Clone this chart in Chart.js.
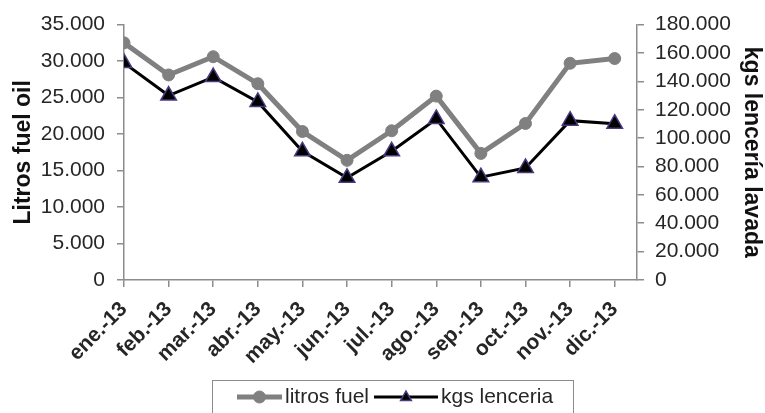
<!DOCTYPE html>
<html lang="es">
<head>
  <meta charset="UTF-8" />
  <title>Litros fuel oil / kgs lencería lavada</title>
  <script src="https://cdn.jsdelivr.net/npm/chart.js"></script>
  <style>
    html, body { margin: 0; padding: 0; background: #fff; }
    #wrap { width: 765px; height: 413px; }
  </style>
</head>
<body>
  <div id="wrap"><canvas id="fuelChart" width="765" height="413"></canvas></div>

  <script>
    const months = ['ene.-13', 'feb.-13', 'mar.-13', 'abr.-13', 'may.-13', 'jun.-13',
                    'jul.-13', 'ago.-13', 'sep.-13', 'oct.-13', 'nov.-13', 'dic.-13'];
    const litrosFuel = [32500, 28100, 30600, 26900, 20350, 16400, 20450, 25200, 17350, 21450, 29700, 30350];
    const kgsLenceria = [153000, 130000, 143000, 125500, 90700, 72000, 90700, 113500, 72500, 79000, 112300, 110200];
    const leftTicks = [0, 5000, 10000, 15000, 20000, 25000, 30000, 35000];
    const rightTicks = [0, 20000, 40000, 60000, 80000, 100000, 120000, 140000, 160000, 180000];

    const font = 'Liberation Sans, Arial, sans-serif';
    const axisGrey = '#8c8c8c';
    const textColor = '#262626';

    function fmt(v) {
      return String(v).replace(/\B(?=(\d{3})+(?!\d))/g, '.');
    }

    // legend drawn as in the original: framed box under the chart, line + marker per series
    const boxLegend = {
      id: 'boxLegend',
      afterDraw(chart) {
        const ctx = chart.ctx;
        ctx.save();
        ctx.strokeStyle = axisGrey;
        ctx.lineWidth = 1;
        ctx.strokeRect(212.5, 380.5, 361, 40);

        const y = 397;
        const items = [
          { ds: chart.data.datasets[0], x0: 237, x1: 282, tx: 285 },
          { ds: chart.data.datasets[1], x0: 374, x1: 438, tx: 441 }
        ];
        items.forEach(it => {
          const ds = it.ds;
          ctx.strokeStyle = ds.borderColor;
          ctx.lineWidth = ds.borderWidth;
          ctx.beginPath();
          ctx.moveTo(it.x0, y);
          ctx.lineTo(it.x1, y);
          ctx.stroke();
          const cx = (it.x0 + it.x1) / 2;
          ctx.fillStyle = ds.pointBackgroundColor;
          ctx.strokeStyle = ds.pointBorderColor;
          ctx.lineWidth = ds.pointBorderWidth;
          ctx.beginPath();
          if (ds.pointStyle === 'triangle') {
            const r = 6;
            ctx.moveTo(cx, y - r);
            ctx.lineTo(cx + r * 0.9, y + r * 0.6);
            ctx.lineTo(cx - r * 0.9, y + r * 0.6);
            ctx.closePath();
          } else {
            ctx.arc(cx, y, 6, 0, Math.PI * 2);
          }
          ctx.fill();
          ctx.stroke();
          ctx.fillStyle = textColor;
          ctx.font = '21px ' + font;
          ctx.textBaseline = 'middle';
          ctx.textAlign = 'left';
          ctx.fillText(ds.label, it.tx, y);
        });
        ctx.restore();
      }
    };

    const ctx = document.getElementById('fuelChart').getContext('2d');
    const chart = new Chart(ctx, {
      type: 'line',
      data: {
        datasets: [{
          label: 'litros fuel',
          data: litrosFuel.map((v, i) => ({ x: i, y: v })),
          yAxisID: 'y',
          borderColor: '#808080',
          borderWidth: 5,
          pointStyle: 'circle',
          pointRadius: 6,
          pointBackgroundColor: '#808080',
          pointBorderColor: '#808080',
          pointBorderWidth: 1,
          tension: 0,
          order: 1
        }, {
          label: 'kgs lenceria',
          data: kgsLenceria.map((v, i) => ({ x: i, y: v })),
          yAxisID: 'y1',
          borderColor: '#000000',
          borderWidth: 3,
          pointStyle: 'triangle',
          pointRadius: 9,
          pointBackgroundColor: '#000000',
          pointBorderColor: '#4b3a80',
          pointBorderWidth: 1.5,
          tension: 0,
          order: 0
        }]
      },
      options: {
        responsive: false,
        animation: false,
        layout: { padding: { top: 22, left: 0, right: 0, bottom: 0 } },
        plugins: {
          legend: { display: false },
          tooltip: { enabled: false }
        },
        scales: {
          x: {
            type: 'linear',
            min: 0,
            max: 11.5,
            afterBuildTicks: s => { s.ticks = months.map((m, i) => ({ value: i })); },
            afterFit: s => { s.height = 133; },
            border: { color: axisGrey, width: 1.5 },
            grid: { drawOnChartArea: false, color: axisGrey, lineWidth: 1.5, tickLength: 7 },
            ticks: {
              autoSkip: false,
              minRotation: 45,
              maxRotation: 45,
              padding: 10,
              color: textColor,
              font: { family: font, size: 21, weight: 'bold' },
              callback: v => months[v] || ''
            }
          },
          y: {
            position: 'left',
            min: 0,
            max: 35000,
            afterBuildTicks: s => { s.ticks = leftTicks.map(v => ({ value: v })); },
            afterFit: s => { s.width = 124; },
            border: { color: axisGrey, width: 1.5 },
            grid: { drawOnChartArea: false, color: axisGrey, lineWidth: 1.5, tickLength: 7 },
            ticks: {
              padding: 12,
              color: textColor,
              font: { family: font, size: 21 },
              callback: v => fmt(v)
            },
            title: {
              display: true,
              text: 'Litros fuel oil',
              color: '#111',
              padding: { top: 10, bottom: 0 },
              font: { family: font, size: 23, weight: 'bold' }
            }
          },
          y1: {
            position: 'right',
            min: 0,
            max: 180000,
            afterBuildTicks: s => { s.ticks = rightTicks.map(v => ({ value: v })); },
            afterFit: s => { s.width = 128; },
            border: { color: axisGrey, width: 1.5 },
            grid: { drawOnChartArea: false, color: axisGrey, lineWidth: 1.5, tickLength: 7 },
            ticks: {
              padding: 11,
              color: textColor,
              font: { family: font, size: 21 },
              callback: v => fmt(v)
            },
            title: {
              display: true,
              text: 'kgs lencería lavada',
              color: '#111',
              padding: { top: 0, bottom: 0 },
              font: { family: font, size: 23, weight: 'bold' }
            }
          }
        }
      },
      plugins: [boxLegend]
    });
  </script>
</body>
</html>
